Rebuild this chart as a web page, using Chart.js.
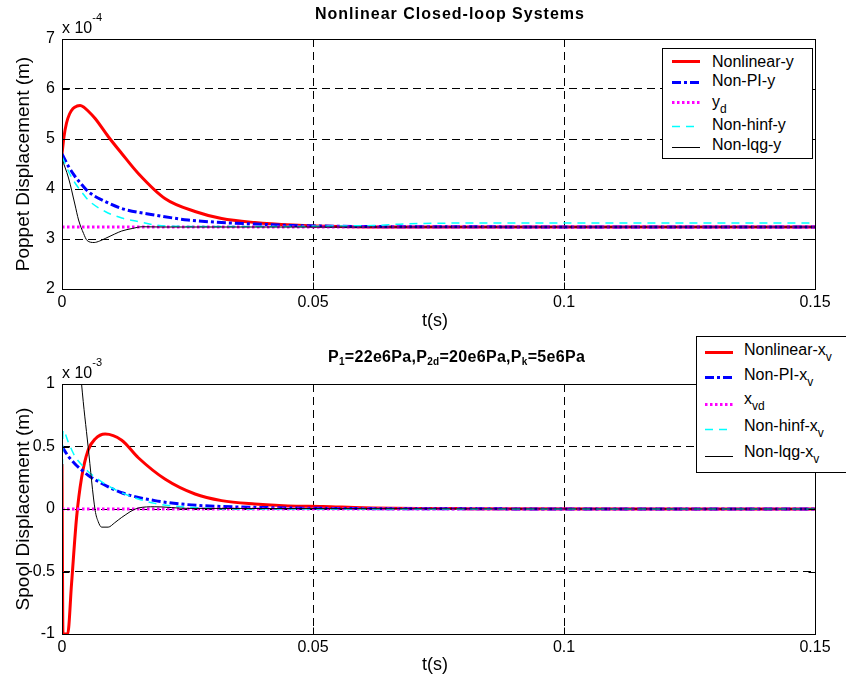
<!DOCTYPE html>
<html>
<head>
<meta charset="utf-8">
<title>Nonlinear Closed-loop Systems</title>
<script src="https://cdn.jsdelivr.net/npm/chart.js@4.4.1/dist/chart.umd.min.js"></script>
<style>
  html, body { margin: 0; padding: 0; background: #fff; }
  body { width: 846px; height: 684px; position: relative; overflow: hidden;
         font-family: "Liberation Sans", Arial, Helvetica, sans-serif; color: #000; }
  .panel { position: absolute; left: 0; width: 846px; height: 342px; }
  .lbl { position: absolute; white-space: nowrap; font-size: 16px; line-height: 16px; }
  .title { font-weight: bold; }
  .ylab { position: absolute; white-space: nowrap; font-size: 19px; line-height: 19px;
          transform: translate(-50%, -50%) rotate(-90deg); }
  .xlab { position: absolute; white-space: nowrap; font-size: 18px; line-height: 18px;
          transform: translateX(-50%); }
  .exp sup { font-size: 11px; line-height: 0; vertical-align: 12px; }
  .title sub { font-size: 10px; line-height: 0; vertical-align: -3px; }
  .legend { position: absolute; box-sizing: border-box; border: 1px solid #000; background: #fff; }
  .leg-text { position: absolute; white-space: nowrap; font-size: 16px; line-height: 16px; }
  .leg-text sub { font-size: 12px; line-height: 0; vertical-align: -6px; }
  svg.sample { position: absolute; overflow: visible; }
</style>
</head>
<body>

<div class="panel" style="top:0"><canvas id="poppet" width="846" height="342"></canvas></div>
<div class="panel" style="top:342px"><canvas id="spool" width="846" height="342"></canvas></div>

<div class="lbl title" style="left:315px; top:5.5px; letter-spacing:1px;">Nonlinear Closed-loop Systems</div>
<div class="lbl exp" style="left:62px; top:17.2px;">x 10<sup>-4</sup></div>
<div class="ylab" style="left:22px; top:164px;">Poppet Displacement (m)</div>
<div class="xlab" style="left:435px; top:311px;">t(s)</div>

<div class="lbl title" style="left:328px; top:349.2px; letter-spacing:0.3px;">P<sub>1</sub>=22e6Pa,P<sub>2d</sub>=20e6Pa,P<sub>k</sub>=5e6Pa</div>
<div class="lbl exp" style="left:62px; top:361.5px;">x 10<sup>-3</sup></div>
<div class="ylab" style="left:22px; top:509px;">Spool Displacement (m)</div>
<div class="xlab" style="left:435px; top:655px;">t(s)</div>

<div class="legend" id="legPoppet" style="left:662px; top:48px; width:151px; height:111px;"></div>
<div class="legend" id="legSpool" style="left:696px; top:336px; width:170px; height:137px;"></div>

<script>
// ---- time axis (seconds) ----
const tTicks = [0, 0.05, 0.1, 0.15];
const tTickLabels = ['0', '0.05', '0.1', '0.15'];

// ---- poppet displacement y, in units of 1e-4 m ----
const yTicksPoppet = [2, 3, 4, 5, 6, 7];
const yTickLabelsPoppet = ['2', '3', '4', '5', '6', '7'];

const tNonlinearY = [0, 0.0004, 0.0009, 0.0015, 0.0022, 0.003, 0.0036, 0.0043, 0.0052, 0.0066, 0.0092, 0.0119, 0.0152, 0.0205, 0.0265, 0.0318, 0.0384, 0.046, 0.055, 0.07, 0.15];
const nonlinearY  = [4.70, 5.05, 5.32, 5.50, 5.61, 5.66, 5.67, 5.64, 5.56, 5.41, 5.05, 4.71, 4.31, 3.81, 3.55, 3.41, 3.33, 3.28, 3.25, 3.24, 3.24];

const tPiY = [0, 0.0013, 0.0026, 0.004, 0.0052, 0.0086, 0.0119, 0.0185, 0.0251, 0.0318, 0.0384, 0.046, 0.055, 0.07, 0.15];
const piY  = [4.70, 4.45, 4.25, 4.08, 3.95, 3.75, 3.61, 3.48, 3.38, 3.33, 3.30, 3.27, 3.255, 3.245, 3.24];

const tRefY = [0, 0.15];
const refY  = [3.24, 3.24];

const tHinfY = [0, 0.0013, 0.0026, 0.004, 0.0052, 0.0086, 0.0119, 0.0152, 0.0185, 0.022, 0.03, 0.046, 0.055, 0.062, 0.068, 0.075, 0.085, 0.15];
const hinfY  = [4.65, 4.35, 4.12, 3.93, 3.78, 3.55, 3.42, 3.35, 3.28, 3.255, 3.25, 3.25, 3.26, 3.27, 3.30, 3.315, 3.32, 3.32];

const tLqgY = [0, 0.0013, 0.0026, 0.0033, 0.0043, 0.005, 0.0064, 0.0075, 0.0086, 0.0105, 0.0119, 0.014, 0.016, 0.02, 0.15];
const lqgY  = [4.60, 4.22, 3.68, 3.38, 3.11, 2.97, 2.93, 2.96, 3.01, 3.10, 3.16, 3.21, 3.245, 3.24, 3.24];

// ---- spool displacement xv, in units of 1e-3 m ----
const yTicksSpool = [-1, -0.5, 0, 0.5, 1];
const yTickLabelsSpool = ['-1', '-0.5', '0', '0.5', '1'];

const tNonlinearXv = [0, 0.0002, 0.00113, 0.0019, 0.0029, 0.0039, 0.0052, 0.0066, 0.0086, 0.0119, 0.0152, 0.0205, 0.0265, 0.0318, 0.0384, 0.045, 0.052, 0.06, 0.08, 0.15];
const nonlinearXv  = [0.36, -1.0, -1.0, -0.60, -0.07, 0.25, 0.47, 0.56, 0.60, 0.55, 0.41, 0.24, 0.12, 0.067, 0.04, 0.025, 0.02, 0.01, 0.003, 0];

const tPiXv = [0, 0.0013, 0.0026, 0.004, 0.0052, 0.0086, 0.0119, 0.0185, 0.025, 0.032, 0.04, 0.05, 0.07, 0.15];
const piXv  = [0.50, 0.42, 0.36, 0.31, 0.27, 0.19, 0.13, 0.067, 0.035, 0.02, 0.012, 0.006, 0.002, 0];

const tRefXv = [0, 0.15];
const refXv  = [0, 0];

const tHinfXv = [0, 0.0002, 0.0013, 0.0026, 0.004, 0.0052, 0.0086, 0.0119, 0.0152, 0.0185, 0.022, 0.027, 0.035, 0.15];
const hinfXv  = [0, 0.63, 0.53, 0.42, 0.35, 0.30, 0.20, 0.13, 0.08, 0.045, 0.025, 0.01, 0, 0];

const tLqgXv = [0, 0.002, 0.0039, 0.0052, 0.0066, 0.0072, 0.0079, 0.0092, 0.0105, 0.0119, 0.0152, 0.0185, 0.025, 0.15];
const lqgXv  = [3.0, 2.0, 1.0, 0.5, -0.01, -0.10, -0.145, -0.145, -0.11, -0.067, 0.008, 0.018, 0.005, 0];

// ---- line styles shared by plots and legends ----
const FONT = '"Liberation Sans", Arial, Helvetica, sans-serif';
const STYLES = {
  nonlinear: { color: '#ff0000', width: 3,   dash: [] },
  pi:        { color: '#0000ff', width: 3,   dash: [9, 3, 3, 3] },
  ref:       { color: '#ff00ff', width: 3,   dash: [2.5, 2.5] },
  hinf:      { color: '#00ffff', width: 1.5, dash: [8, 6] },
  lqg:       { color: '#000000', width: 1,   dash: [] }
};
// draw order: later legend entries on top
const ORDER = { nonlinear: 5, pi: 4, ref: 3, hinf: 2, lqg: 1 };

function points(t, v) { return t.map((ti, i) => ({ x: ti, y: v[i] })); }

function dataset(key, label, t, v) {
  const s = STYLES[key];
  return {
    label, data: points(t, v), order: ORDER[key],
    borderColor: s.color, borderWidth: s.width, borderDash: s.dash,
    pointRadius: 0, fill: false, cubicInterpolationMode: 'monotone',
    borderCapStyle: 'butt', borderJoinStyle: 'round'
  };
}

// axes box with inward tick marks on all four sides
const boxAndTicks = {
  id: 'boxAndTicks',
  afterDatasetsDraw(chart) {
    const { ctx, chartArea: a, scales } = chart;
    const L = Math.round(a.left) + 0.5, R = Math.round(a.right) + 0.5;
    const T = Math.round(a.top) + 0.5, B = Math.round(a.bottom) + 0.5;
    const len = 7;
    ctx.save();
    ctx.setLineDash([]);
    ctx.strokeStyle = '#000';
    ctx.lineWidth = 1;
    ctx.beginPath();
    scales.x.ticks.forEach(tk => {
      const px = Math.round(scales.x.getPixelForValue(tk.value)) + 0.5;
      ctx.moveTo(px, B); ctx.lineTo(px, B - len);
      ctx.moveTo(px, T); ctx.lineTo(px, T + len);
    });
    scales.y.ticks.forEach(tk => {
      const py = Math.round(scales.y.getPixelForValue(tk.value)) + 0.5;
      ctx.moveTo(L, py); ctx.lineTo(L + len, py);
      ctx.moveTo(R, py); ctx.lineTo(R - len, py);
    });
    ctx.stroke();
    ctx.strokeRect(L, T, R - L, B - T);
    ctx.restore();
  }
};

function makePanel(canvasId, datasets, yTicks, yLabels, padTop) {
  const plotH = 250;
  const xAxisH = 342 - padTop - plotH;
  const yMin = yTicks[0], yMax = yTicks[yTicks.length - 1];
  const tMin = tTicks[0], tMax = tTicks[tTicks.length - 1];
  return new Chart(document.getElementById(canvasId), {
    type: 'line',
    data: { datasets },
    plugins: [boxAndTicks],
    options: {
      responsive: false, animation: false, events: [],
      layout: { padding: { top: padTop, right: 31, left: 0, bottom: 0 } },
      plugins: { legend: { display: false }, tooltip: { enabled: false }, title: { display: false } },
      scales: {
        x: {
          type: 'linear', min: tMin, max: tMax,
          afterFit(s) { s.height = xAxisH; },
          afterBuildTicks(s) { s.ticks = tTicks.map(v => ({ value: v })); },
          ticks: { callback: (v, i) => tTickLabels[i], color: '#000', font: { family: FONT, size: 16 },
                   padding: 4, maxRotation: 0, autoSkip: false },
          grid: { drawTicks: false, lineWidth: 1,
                  color: c => (c.tick && c.tick.value > tMin && c.tick.value < tMax) ? '#000' : 'rgba(0,0,0,0)' },
          border: { display: false, dash: [8, 5] }
        },
        y: {
          type: 'linear', min: yMin, max: yMax,
          afterFit(s) { s.width = 62; },
          afterBuildTicks(s) { s.ticks = yTicks.map(v => ({ value: v })); },
          ticks: { callback: (v, i) => yLabels[i], color: '#000', font: { family: FONT, size: 16 },
                   padding: 7, autoSkip: false },
          grid: { drawTicks: false, lineWidth: 1,
                  color: c => (c.tick && c.tick.value > yMin && c.tick.value < yMax) ? '#000' : 'rgba(0,0,0,0)' },
          border: { display: false, dash: [8, 5] }
        }
      }
    }
  });
}

makePanel('poppet', [
  dataset('nonlinear', 'Nonlinear-y', tNonlinearY, nonlinearY),
  dataset('pi', 'Non-PI-y', tPiY, piY),
  dataset('ref', 'y_d', tRefY, refY),
  dataset('hinf', 'Non-hinf-y', tHinfY, hinfY),
  dataset('lqg', 'Non-lqg-y', tLqgY, lqgY)
], yTicksPoppet, yTickLabelsPoppet, 39);

makePanel('spool', [
  dataset('nonlinear', 'Nonlinear-x_v', tNonlinearXv, nonlinearXv),
  dataset('pi', 'Non-PI-x_v', tPiXv, piXv),
  dataset('ref', 'x_vd', tRefXv, refXv),
  dataset('hinf', 'Non-hinf-x_v', tHinfXv, hinfXv),
  dataset('lqg', 'Non-lqg-x_v', tLqgXv, lqgXv)
], yTicksSpool, yTickLabelsSpool, 42);

// ---- legends (HTML, so subscripts stay real text) ----
function buildLegend(boxId, entries, geom) {
  const box = document.getElementById(boxId);
  const bx = parseFloat(box.style.left), by = parseFloat(box.style.top);
  entries.forEach((e, i) => {
    const s = STYLES[e.key];
    const ly = geom.lineY[i] - by;
    const svgNS = 'http://www.w3.org/2000/svg';
    const svg = document.createElementNS(svgNS, 'svg');
    svg.setAttribute('class', 'sample');
    svg.setAttribute('width', geom.x2 - geom.x1);
    svg.setAttribute('height', 1);
    svg.style.left = (geom.x1 - bx - 1) + 'px';
    svg.style.top = (ly - 1) + 'px';
    const ln = document.createElementNS(svgNS, 'line');
    ln.setAttribute('x1', 0); ln.setAttribute('x2', geom.x2 - geom.x1);
    ln.setAttribute('y1', 0.5); ln.setAttribute('y2', 0.5);
    ln.setAttribute('stroke', s.color);
    ln.setAttribute('stroke-width', s.width);
    if (s.dash.length) ln.setAttribute('stroke-dasharray', s.dash.join(' '));
    svg.appendChild(ln);
    box.appendChild(svg);
    const tx = document.createElement('div');
    tx.className = 'leg-text';
    tx.innerHTML = e.html;
    tx.style.left = (geom.textX - bx - 1) + 'px';
    tx.style.top = (geom.baseline[i] - 13.5 - by - 1) + 'px';
    box.appendChild(tx);
  });
}

buildLegend('legPoppet', [
  { key: 'nonlinear', html: 'Nonlinear-y' },
  { key: 'pi',        html: 'Non-PI-y' },
  { key: 'ref',       html: 'y<sub>d</sub>' },
  { key: 'hinf',      html: 'Non-hinf-y' },
  { key: 'lqg',       html: 'Non-lqg-y' }
], { x1: 672, x2: 700, textX: 712,
     lineY: [61, 81.5, 101.5, 126, 147.3],
     baseline: [67.3, 86.7, 107, 130.7, 150.7] });

buildLegend('legSpool', [
  { key: 'nonlinear', html: 'Nonlinear-x<sub>v</sub>' },
  { key: 'pi',        html: 'Non-PI-x<sub>v</sub>' },
  { key: 'ref',       html: 'x<sub>vd</sub>' },
  { key: 'hinf',      html: 'Non-hinf-x<sub>v</sub>' },
  { key: 'lqg',       html: 'Non-lqg-x<sub>v</sub>' }
], { x1: 705, x2: 733, textX: 744,
     lineY: [352.3, 377.3, 404, 429.3, 456],
     baseline: [355, 380, 404.5, 431, 457] });
</script>
</body>
</html>
